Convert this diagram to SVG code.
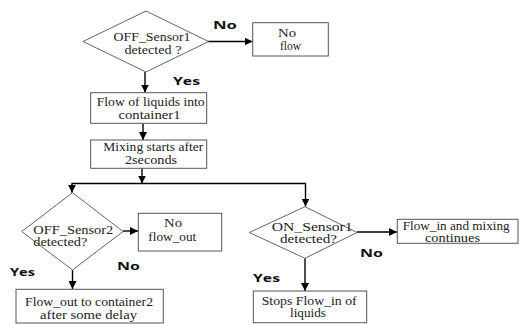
<svg xmlns="http://www.w3.org/2000/svg" width="523" height="324" viewBox="0 0 523 324">
<defs>
<marker id="arr" markerWidth="8" markerHeight="8" refX="8" refY="4" orient="auto" markerUnits="userSpaceOnUse">
<path d="M0,0 L8,4 L0,8 Z" fill="#000"/>
</marker>
<style>
.box{fill:#fff;stroke:#555;stroke-width:1}
.dia{fill:#fff;stroke:#666;stroke-width:1}
.t{font-family:'Liberation Serif','DejaVu Serif',serif;font-size:11.5px;fill:#222}
.lbl{font-family:'Open Sans','DejaVu Sans',sans-serif;font-size:11px;font-weight:bold;fill:#111}
.c{fill:none;stroke:#000;stroke-width:1.4}
</style>
</defs>
<rect width="523" height="324" fill="#fff"/>
<g id="connectors">
<line class="c" x1="208" y1="41.5" x2="252.5" y2="41.5" marker-end="url(#arr)"/>
<line class="c" x1="145" y1="72" x2="145" y2="92.5" marker-end="url(#arr)"/>
<line class="c" x1="143" y1="123.5" x2="143" y2="140" marker-end="url(#arr)"/>
<line class="c" x1="142" y1="168.5" x2="142" y2="183.5" marker-end="url(#arr)"/>
<line class="c" x1="71.5" y1="183.5" x2="306" y2="183.5"/>
<line class="c" x1="72" y1="183.5" x2="72" y2="192.7" marker-end="url(#arr)"/>
<line class="c" x1="305.5" y1="183.5" x2="305.5" y2="206.5" marker-end="url(#arr)"/>
<line class="c" x1="123" y1="231" x2="138" y2="231" marker-end="url(#arr)"/>
<line class="c" x1="72.5" y1="270" x2="72.5" y2="289" marker-end="url(#arr)"/>
<line class="c" x1="357" y1="232" x2="397" y2="232" marker-end="url(#arr)"/>
<line class="c" x1="305" y1="258.3" x2="305" y2="291" marker-end="url(#arr)"/>
</g>
<g id="d1">
<polygon class="dia" points="146,11 208.5,41.5 146,72 83,41.5"/>
<text class="t" font-family="Liberation Serif, serif" x="113.5" y="41" textLength="77" lengthAdjust="spacingAndGlyphs">OFF_Sensor1</text>
<text class="t" x="124.5" y="54" textLength="57" lengthAdjust="spacingAndGlyphs">detected ?</text>
</g>
<g id="noflow">
<rect class="box" x="252.7" y="22.7" width="75.6" height="33.3"/>
<text class="t" x="278" y="37" textLength="18" lengthAdjust="spacingAndGlyphs">No</text>
<text class="t" x="280" y="49.5" textLength="21" lengthAdjust="spacingAndGlyphs">flow</text>
</g>
<g id="flow1">
<rect class="box" x="90.7" y="92.7" width="116" height="30.6"/>
<text class="t" x="96.7" y="105.5" textLength="108" lengthAdjust="spacingAndGlyphs">Flow of liquids into</text>
<text class="t" x="118.5" y="119" textLength="62" lengthAdjust="spacingAndGlyphs">container1</text>
</g>
<g id="mix">
<rect class="box" x="90.7" y="140" width="116" height="28.3"/>
<text class="t" x="103.3" y="150.5" textLength="100" lengthAdjust="spacingAndGlyphs">Mixing starts after</text>
<text class="t" x="125" y="164" textLength="52" lengthAdjust="spacingAndGlyphs">2seconds</text>
</g>
<g id="d2">
<polygon class="dia" points="72.5,192.7 123,231.5 72.5,270 21.7,231.5"/>
<text class="t" x="33.3" y="234" textLength="80" lengthAdjust="spacingAndGlyphs">OFF_Sensor2</text>
<text class="t" x="33.3" y="246" textLength="54" lengthAdjust="spacingAndGlyphs">detected?</text>
</g>
<g id="noflowout">
<rect class="box" x="138.3" y="213.3" width="83.4" height="37.7"/>
<text class="t" x="164" y="227" textLength="18" lengthAdjust="spacingAndGlyphs">No</text>
<text class="t" x="148.3" y="240.5" textLength="48" lengthAdjust="spacingAndGlyphs">flow_out</text>
</g>
<g id="flowout">
<rect class="box" x="16" y="289.3" width="147.3" height="33.7"/>
<text class="t" x="25" y="305.5" textLength="128" lengthAdjust="spacingAndGlyphs">Flow_out to container2</text>
<text class="t" x="40" y="319" textLength="97" lengthAdjust="spacingAndGlyphs">after some delay</text>
</g>
<g id="d3">
<polygon class="dia" points="305,206.7 357,232.5 305,258.3 249.3,232.5"/>
<text class="t" x="271.7" y="231" textLength="81" lengthAdjust="spacingAndGlyphs">ON_Sensor1</text>
<text class="t" x="280" y="242.5" textLength="57" lengthAdjust="spacingAndGlyphs">detected?</text>
</g>
<g id="flowin">
<rect class="box" x="397.3" y="219.3" width="120.7" height="24"/>
<text class="t" x="402.7" y="230" textLength="107" lengthAdjust="spacingAndGlyphs">Flow_in and mixing</text>
<text class="t" x="425" y="242" textLength="55" lengthAdjust="spacingAndGlyphs">continues</text>
</g>
<g id="stops">
<rect class="box" x="253.3" y="291" width="113.4" height="31.7"/>
<text class="t" x="261.7" y="304.5" textLength="95" lengthAdjust="spacingAndGlyphs">Stops Flow_in of</text>
<text class="t" x="290" y="317" textLength="36" lengthAdjust="spacingAndGlyphs">liquids</text>
</g>
<g id="labels">
<text class="lbl" x="213" y="28.5" textLength="24" lengthAdjust="spacingAndGlyphs">No</text>
<text class="lbl" x="173" y="84.5" textLength="27" lengthAdjust="spacingAndGlyphs">Yes</text>
<text class="lbl" x="10" y="275.5" textLength="25" lengthAdjust="spacingAndGlyphs">Yes</text>
<text class="lbl" x="117" y="270" textLength="23" lengthAdjust="spacingAndGlyphs">No</text>
<text class="lbl" x="360" y="257" textLength="23" lengthAdjust="spacingAndGlyphs">No</text>
<text class="lbl" x="253" y="282" textLength="27" lengthAdjust="spacingAndGlyphs">Yes</text>
</g>
</svg>
